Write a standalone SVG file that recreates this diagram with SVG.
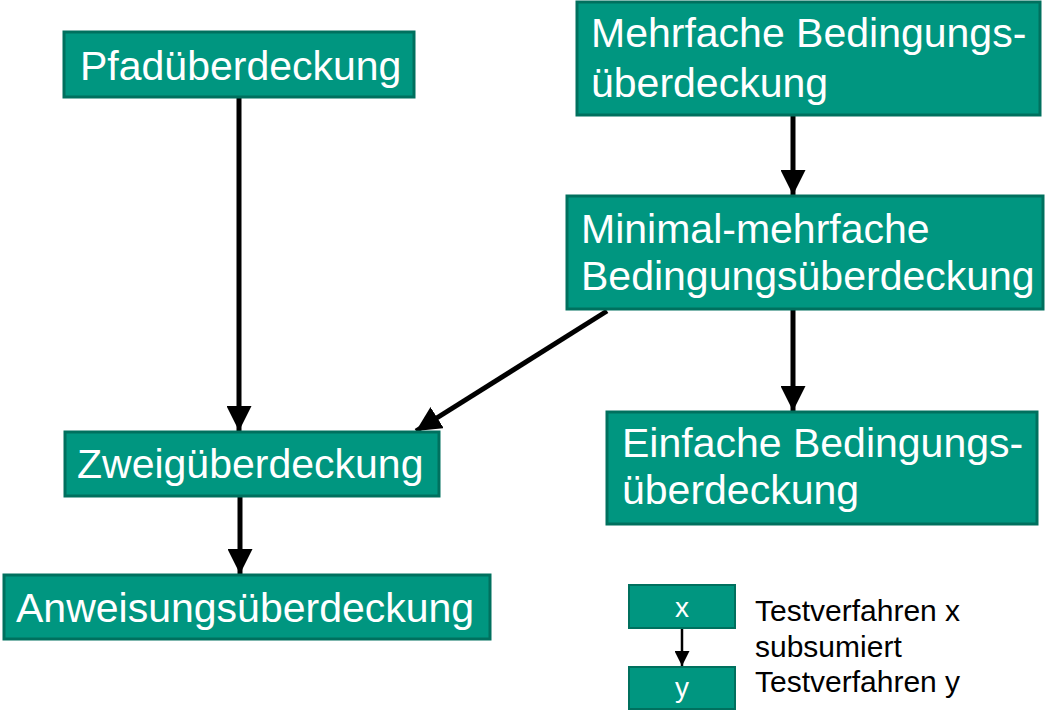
<svg xmlns="http://www.w3.org/2000/svg" width="1045" height="714" viewBox="0 0 1045 714">
<style>
.box{fill:#009680;stroke:#00705e;stroke-width:3}
.t{font-family:"Liberation Sans",Arial,sans-serif;font-size:41px;fill:#ffffff}
.lt{font-family:"Liberation Sans",Arial,sans-serif;font-size:30px;fill:#000000}
.lx{font-family:"Liberation Sans",Arial,sans-serif;font-size:28px;fill:#ffffff;text-anchor:middle}
.c{stroke:#000;stroke-width:5;fill:none}
.cs{stroke:#000;stroke-width:2.5;fill:none}
</style>
<defs>
<marker id="ah" viewBox="0 0 10 10" refX="10" refY="5" markerWidth="5" markerHeight="5" markerUnits="strokeWidth" orient="auto">
<path d="M0,0 L10,5 L0,10 Z" fill="#000"/>
</marker>
<marker id="ahs" viewBox="0 0 10 10" refX="10" refY="5" markerWidth="6" markerHeight="6" markerUnits="strokeWidth" orient="auto">
<path d="M0,0 L10,5 L0,10 Z" fill="#000"/>
</marker>
</defs>
<rect width="1045" height="714" fill="#ffffff"/>
<g id="connectors">
<line class="c" x1="239" y1="97" x2="239" y2="431" marker-end="url(#ah)"/>
<line class="c" x1="793" y1="115" x2="793" y2="195" marker-end="url(#ah)"/>
<line class="c" x1="793" y1="309" x2="793" y2="411" marker-end="url(#ah)"/>
<line class="c" x1="607" y1="311" x2="416" y2="431" marker-end="url(#ah)"/>
<line class="c" x1="240" y1="496" x2="240" y2="574" marker-end="url(#ah)"/>
<line class="cs" x1="682" y1="628" x2="682" y2="666" marker-end="url(#ahs)"/>
</g>
<g id="pfad">
<rect class="box" x="64" y="32" width="350" height="65"/>
<text class="t" x="80" y="80">Pfadüberdeckung</text>
</g>
<g id="mehrfach">
<rect class="box" x="577" y="2" width="463" height="113"/>
<text class="t" x="591" y="47">Mehrfache Bedingungs-</text>
<text class="t" x="591" y="97">überdeckung</text>
</g>
<g id="minimal">
<rect class="box" x="567" y="196" width="476" height="113"/>
<text class="t" x="581" y="243">Minimal-mehrfache</text>
<text class="t" x="581" y="290">Bedingungsüberdeckung</text>
</g>
<g id="einfach">
<rect class="box" x="607" y="412" width="430" height="112"/>
<text class="t" x="622" y="457">Einfache Bedingungs-</text>
<text class="t" x="622" y="504">überdeckung</text>
</g>
<g id="zweig">
<rect class="box" x="65" y="432" width="374" height="64"/>
<text class="t" x="77" y="478">Zweigüberdeckung</text>
</g>
<g id="anweisung">
<rect class="box" x="4" y="575" width="486" height="64"/>
<text class="t" x="16" y="622">Anweisungsüberdeckung</text>
</g>
<g id="legend-x">
<rect class="box" x="629" y="585" width="106" height="43" style="stroke-width:2"/>
<text class="lx" x="682" y="617">x</text>
</g>
<g id="legend-y">
<rect class="box" x="629" y="667" width="106" height="42" style="stroke-width:2"/>
<text class="lx" x="682" y="697">y</text>
</g>
<g id="legend-text">
<text class="lt" x="755" y="621">Testverfahren x</text>
<text class="lt" x="755" y="657">subsumiert</text>
<text class="lt" x="755" y="692">Testverfahren y</text>
</g>
</svg>
